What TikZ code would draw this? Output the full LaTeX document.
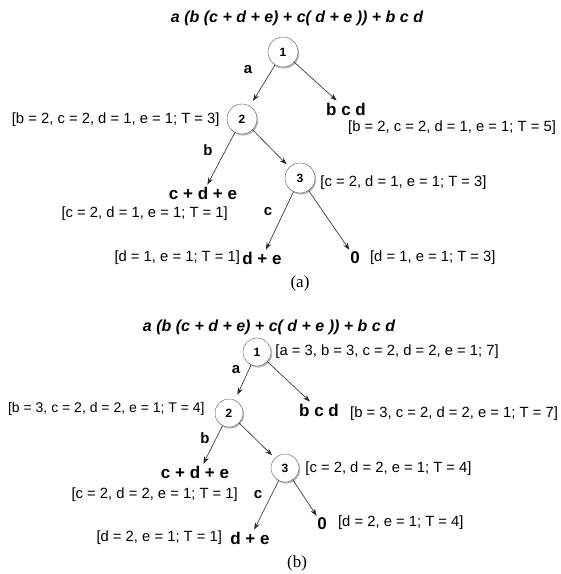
\documentclass[tikz,border=0pt]{standalone}
\usepackage{fontspec}
\setmainfont{Liberation Sans}
\newfontfamily\capfont{Liberation Serif}
\usetikzlibrary{calc,arrows.meta,shadows}

\begin{document}
\begin{tikzpicture}[x=1pt,y=-1pt,
	krug/.style={circle,draw=black!65,fill=white,minimum size=30pt,inner sep=0pt,
		font=\bfseries\fontsize{12}{14}\selectfont,
		drop shadow={shadow xshift=1.2pt,shadow yshift=-1.6pt,opacity=0.55}},
	izraz/.style={font=\bfseries\fontsize{17}{20}\selectfont,inner sep=2pt},
	oznaka/.style={font=\bfseries\fontsize{15}{18}\selectfont,inner sep=0pt},
	stanje/.style={font=\fontsize{14.8}{17}\selectfont,inner sep=0pt},
	naslov/.style={font=\bfseries\itshape\fontsize{16}{19}\selectfont},
	potpis/.style={font=\capfont\fontsize{17}{19}\selectfont},
	strelica/.style={draw=black!85,line width=0.6pt,-{Stealth[length=7pt,width=5pt]}}]
	\useasboundingbox (0,0) rectangle (561,574);

	%(a)
	\node[naslov] (t1) at (297,18) {a (b (c + d + e) + c( d + e )) + b c d};
	\node[krug] (V1) at (283,52) {1};
	\node[krug] (V2) at (242,119) {2};
	\node[krug] (V3) at (300,178) {3};
	\node[izraz] (bcd1) at (346,109) {b c d};
	\node[izraz] (cde1) at (203,193) {c + d + e};
	\node[izraz] (de1) at (262,258) {d + e};
	\node[izraz] (nula1) at (355,258) {0};

	\node[oznaka] (a1) at ($(V1)+(-35,18)$) {a};
	\node[oznaka] (b1) at ($(V2)+(-34,31)$) {b};
	\node[oznaka] (c1) at ($(V3)+(-32,34)$) {c};

	\node[stanje,anchor=east] (p2) at ($(V2.west)+(-7,1)$) {[b = 2, c = 2, d = 1, e = 1; T = 3]};
	\node[stanje,anchor=west] (pbcd1) at ($(bcd1)+(2,19)$) {[b = 2, c = 2, d = 1, e = 1; T = 5]};
	\node[stanje,anchor=west] (p3) at ($(V3.east)+(5,5)$) {[c = 2, d = 1, e = 1; T = 3]};
	\node[stanje,anchor=east] (pcde1) at ($(cde1)+(25,21)$) {[c = 2, d = 1, e = 1; T = 1]};
	\node[stanje,anchor=east] (pde1) at (de1.west) {[d = 1, e = 1; T = 1]};
	\node[stanje,anchor=west] (pnula1) at ($(nula1.east)+(8,0)$) {[d = 1, e = 1; T = 3]};
	\node[potpis] (cap1) at (300,283) {(a)};

	\draw[strelica,shorten >=6pt] (V1) -- (V2);
	\draw[strelica] (V1) -- (bcd1);
	\draw[strelica] (V2) -- (cde1);
	\draw[strelica,shorten >=4pt] (V2) -- (V3);
	\draw[strelica] (V3) -- (de1);
	\draw[strelica] (V3) -- (nula1);

	%(b)
	\node[naslov] (t2) at (269,327) {a (b (c + d + e) + c( d + e )) + b c d};
	\node[krug,minimum size=28pt] (W1) at (257,352) {1};
	\node[krug,minimum size=28pt] (W2) at (229,413) {2};
	\node[krug,minimum size=28pt] (W3) at (285,468) {3};
	\node[izraz] (bcd2) at (319,410) {b c d};
	\node[izraz] (cde2) at (195,472) {c + d + e};
	\node[izraz] (de2) at (250,538) {d + e};
	\node[izraz] (nula2) at (322,524) {0};

	\node[oznaka] (a2) at ($(W1)+(-21,18)$) {a};
	\node[oznaka] (b2) at ($(W2)+(-24,25)$) {b};
	\node[oznaka] (c2) at ($(W3)+(-27,27)$) {c};

	\node[stanje,anchor=west] (q1) at ($(W1.east)+(4,0)$) {[a = 3, b = 3, c = 2, d = 2, e = 1; 7]};
	\node[stanje,anchor=east,font=\fontsize{14}{17}\selectfont] (q2) at ($(W2.west)+(-10,-4)$) {[b = 3, c = 2, d = 2, e = 1; T = 4]};
	\node[stanje,anchor=west] (qbcd2) at ($(bcd2)+(31,4)$) {[b = 3, c = 2, d = 2, e = 1; T = 7]};
	\node[stanje,anchor=west] (q3) at ($(W3.east)+(6,1)$) {[c = 2, d = 2, e = 1; T = 4]};
	\node[stanje,anchor=east] (qcde2) at ($(cde2)+(43,23)$) {[c = 2, d = 2, e = 1; T = 1]};
	\node[stanje,anchor=east] (qde2) at ($(de2.west)+(-6,0)$) {[d = 2, e = 1; T = 1]};
	\node[stanje,anchor=west] (qnula2) at ($(nula2.east)+(9,-1)$) {[d = 2, e = 1; T = 4]};
	\node[potpis] (cap2) at (297,563) {(b)};

	\draw[strelica,shorten >=6pt] (W1) -- (W2);
	\draw[strelica] (W1) -- (bcd2);
	\draw[strelica] (W2) -- (cde2.45);
	\draw[strelica,shorten >=4pt] (W2) -- (W3);
	\draw[strelica] (W3) -- (de2);
	\draw[strelica] (W3) -- (nula2);

\end{tikzpicture}
\end{document}
